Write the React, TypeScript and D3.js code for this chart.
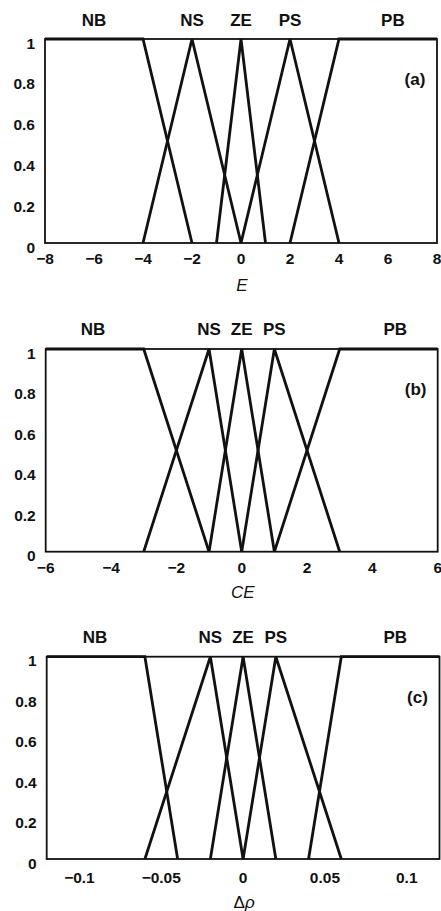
import React from "react";
import * as d3 from "d3";

const categories = ["NB", "NS", "ZE", "PS", "PB"];

// Panel (a): E
const eDomain = [-8, 8];
const eTicks = [-8, -6, -4, -2, 0, 2, 4, 6, 8];
const eLabelX = [-6, -2, 0, 2, 6.2];
const eNB = [[-8, 1], [-4, 1], [-2, 0]];
const eNS = [[-4, 0], [-2, 1], [0, 0]];
const eZE = [[-1, 0], [0, 1], [1, 0]];
const ePS = [[0, 0], [2, 1], [4, 0]];
const ePB = [[2, 0], [4, 1], [8, 1]];

// Panel (b): CE
const ceDomain = [-6, 6];
const ceTicks = [-6, -4, -2, 0, 2, 4, 6];
const ceLabelX = [-4.55, -1, 0, 1, 4.7];
const ceNB = [[-6, 1], [-3, 1], [-1, 0]];
const ceNS = [[-3, 0], [-1, 1], [0, 0]];
const ceZE = [[-1, 0], [0, 1], [1, 0]];
const cePS = [[0, 0], [1, 1], [3, 0]];
const cePB = [[1, 0], [3, 1], [6, 1]];

// Panel (c): Δρ
const drDomain = [-0.12, 0.12];
const drTicks = [-0.1, -0.05, 0, 0.05, 0.1];
const drLabelX = [-0.0905, -0.02, 0, 0.02, 0.093];
const drNB = [[-0.12, 1], [-0.06, 1], [-0.04, 0]];
const drNS = [[-0.06, 0], [-0.02, 1], [0, 0]];
const drZE = [[-0.02, 0], [0, 1], [0.02, 0]];
const drPS = [[0, 0], [0.02, 1], [0.06, 0]];
const drPB = [[0.04, 0], [0.06, 1], [0.12, 1]];

const yTicks = [0, 0.2, 0.4, 0.6, 0.8, 1];

const FONT = "'Liberation Sans', Arial, Helvetica, sans-serif";

function fmtTick(v: number) {
  if (v === 0) return "0";
  const s = String(Math.abs(v));
  return (v < 0 ? "\u2212" : "") + s;
}

type PanelProps = {
  left: number; right: number; top: number; bottom: number;
  domain: number[]; ticks: number[]; labelX: number[];
  mfs: number[][][]; tag: string; title: React.ReactNode;
  catY: number; tickY: number; titleY: number;
};

function Panel(p: PanelProps) {
  const x = d3.scaleLinear().domain(p.domain).range([p.left, p.right]);
  const y = d3.scaleLinear().domain([0, 1]).range([p.bottom, p.top]);
  const line = d3.line<number[]>().x((d) => x(d[0])).y((d) => y(d[1]));
  return (
    <g>
      {categories.map((c, i) => (
        <text key={c} x={x(p.labelX[i])} y={p.catY} textAnchor="middle" dominantBaseline="central"
          fontFamily={FONT} fontWeight="bold" fontSize={17} fill="#111">{c}</text>
      ))}
      <rect x={p.left} y={p.top} width={p.right - p.left} height={p.bottom - p.top}
        fill="none" stroke="#111" strokeWidth={1.8} />
      {p.mfs.map((m, i) => (
        <path key={i} d={line(m) || ""} fill="none" stroke="#111" strokeWidth={2.8} strokeLinejoin="miter" />
      ))}
      {yTicks.map((t) => (
        <text key={t} x={p.left - 10} y={y(t) + 4} textAnchor="end" dominantBaseline="central"
          fontFamily={FONT} fontWeight="bold" fontSize={15.5} fill="#111">{String(t)}</text>
      ))}
      {p.ticks.map((t) => (
        <text key={t} x={x(t)} y={p.tickY} textAnchor="middle" dominantBaseline="central"
          fontFamily={FONT} fontWeight="bold" fontSize={15.5} fill="#111">{fmtTick(t)}</text>
      ))}
      <text x={(p.left + p.right) / 2 + 1} y={p.titleY} textAnchor="middle" dominantBaseline="central"
        fontFamily={FONT} fontStyle="italic" fontSize={17} fill="#111">{p.title}</text>
      <text x={x(p.domain[1]) - 22} y={y(0.8)} textAnchor="middle" dominantBaseline="central"
        fontFamily={FONT} fontWeight="bold" fontSize={17} fill="#111">{p.tag}</text>
    </g>
  );
}

export default function App() {
  return (
    <div style={{ position: "absolute", left: 0, top: 0 }}>
      <svg width={441} height={911} style={{ display: "block", background: "#fff" }}>
        <Panel left={45} right={437} top={39} bottom={243} domain={eDomain} ticks={eTicks}
          labelX={eLabelX} mfs={[eNB, eNS, eZE, ePS, ePB]} tag="(a)" title="E"
          catY={20} tickY={258} titleY={285} />
        <Panel left={45.7} right={437.7} top={349} bottom={551.7} domain={ceDomain} ticks={ceTicks}
          labelX={ceLabelX} mfs={[ceNB, ceNS, ceZE, cePS, cePB]} tag="(b)" title="CE"
          catY={329} tickY={567} titleY={592} />
        <Panel left={46.7} right={439.5} top={656.7} bottom={859} domain={drDomain} ticks={drTicks}
          labelX={drLabelX} mfs={[drNB, drNS, drZE, drPS, drPB]} tag="(c)"
          title={<tspan fontStyle="normal">Δ<tspan fontStyle="italic">ρ</tspan></tspan>}
          catY={637} tickY={877} titleY={902} />
      </svg>
    </div>
  );
}
